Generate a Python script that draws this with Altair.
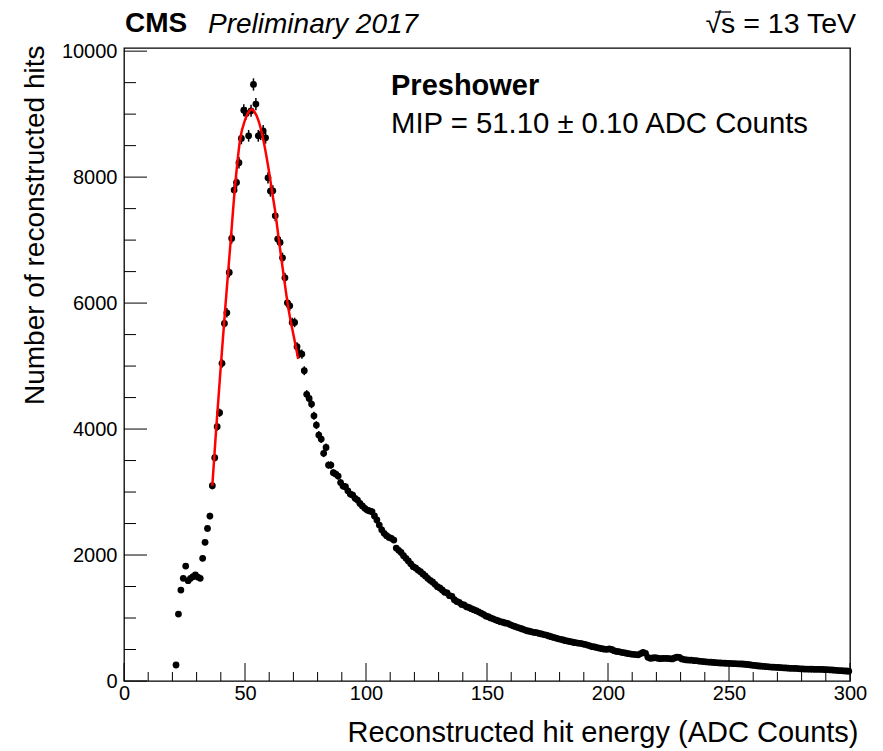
import altair as alt
import pandas as pd
import numpy as np

# ---------------- data ----------------
bin_start = 21          # first filled bin is [21, 22)
counts = [
    254, 1063, 1444, 1630, 1825, 1592, 1630, 1656, 1683, 1650,      # 21.5 - 30.5
    1630, 1947, 2201, 2423, 2619, 3100, 3545, 4037, 4259, 5043,     # 31.5 - 40.5
    5677, 5846, 6487, 7026, 7794, 7915, 8228, 8614, 9063, 9010,     # 41.5 - 50.5
    8656, 9052, 9471, 9159, 8656, 8680, 8735, 8624, 7989, 7778,     # 51.5 - 60.5
    7783, 7386, 7016, 6963, 6719, 6402, 6005, 5957, 5693, 5693,     # 61.5 - 70.5
    5307, 5201, 5190, 4926, 4551, 4487, 4397, 4211, 4063, 3905,     # 71.5 - 80.5
    3841, 3614, 3709, 3429, 3429, 3307, 3286, 3254, 3150, 3095,     # 81.5 - 90.5
    3084, 3020, 2968, 2952, 2900, 2873, 2820, 2780, 2741, 2714,     # 91.5 - 100.5
    2700, 2687, 2620, 2556, 2476, 2400, 2344, 2307, 2280, 2265,     # 101.5 - 110.5
    2238, 2110, 2075, 2040, 1990, 1947, 1905, 1860, 1815, 1795,     # 111.5 - 120.5
    1762, 1735, 1700, 1668, 1630, 1598, 1572, 1535, 1497, 1478,     # 121.5 - 130.5
    1445, 1410, 1398, 1355, 1345, 1290, 1262, 1250, 1215, 1208,     # 131.5 - 140.5
    1179, 1168, 1148, 1133, 1116, 1098, 1078, 1058, 1032, 1020,     # 141.5 - 150.5
    1002, 988, 972, 957, 942, 933, 921, 916, 896, 880,              # 151.5 - 160.5
    866, 852, 841, 826, 812, 798, 790, 781, 772, 767,               # 161.5 - 170.5
    756, 747, 738, 730, 716, 704, 692, 681, 670, 661,               # 171.5 - 180.5
    651, 641, 632, 624, 615, 609, 602, 598, 590, 581,               # 181.5 - 190.5
    570, 558, 545, 540, 531, 521, 513, 505, 503, 510,               # 191.5 - 200.5
    500, 482, 470, 465, 455, 450, 441, 433, 428, 424,               # 201.5 - 210.5
    420, 415, 435, 455, 440, 376, 360, 365, 370, 362,               # 211.5 - 220.5
    355, 360, 358, 360, 355, 350, 365, 378, 376, 350,               # 221.5 - 230.5
    340, 335, 333, 330, 325, 322, 317, 312, 308, 305,               # 231.5 - 240.5
    300, 298, 294, 291, 288, 286, 284, 282, 280, 279,               # 241.5 - 250.5
    277, 275, 273, 271, 270, 266, 262, 258, 252, 248,               # 251.5 - 260.5
    242, 238, 235, 232, 228, 225, 222, 220, 217, 215,               # 261.5 - 270.5
    212, 210, 207, 204, 202, 201, 199, 197, 194, 192,               # 271.5 - 280.5
    190, 189, 188, 187, 186, 185, 185, 183, 181, 179,               # 281.5 - 290.5
    177, 175, 172, 169, 166, 163, 160, 159, 155,                    # 291.5 - 299.5
]

# fitted curve
fit_x = [36.5, 38.0, 40.0, 42.0, 44.0, 46.0, 48.0, 50.0, 52.0, 52.8,
         54.0, 55.5, 57.6, 59.6, 61.3, 62.4, 64.0, 65.8, 68.0, 70.0, 72.0]
fit_y = [3100, 3950, 5000, 6000, 6950, 7900, 8600, 8905, 9060, 9079,
         9030, 8905, 8587, 8164, 7740, 7476, 7000, 6487, 5900, 5500, 5111]

y_major = [0, 2000, 4000, 6000, 8000, 10000]
y_minor = [500, 1000, 1500, 2500, 3000, 3500, 4500, 5000, 5500,
           6500, 7000, 7500, 8500, 9000, 9500]
x_major = [0, 50, 100, 150, 200, 250, 300]
x_minor = [10, 20, 30, 40, 60, 70, 80, 90, 110, 120, 130, 140,
           160, 170, 180, 190, 210, 220, 230, 240, 260, 270, 280, 290]

x_title = "Reconstructed hit energy (ADC Counts)"
y_title = "Number of reconstructed hits"
label_cms = "CMS"
label_prelim = "Preliminary 2017"
label_energy = "\u221as = 13 TeV"
label_det = "Preshower"
label_mip = "MIP = 51.10 \u00b1 0.10 ADC Counts"

# ---------------- chart ----------------
W, H = 726, 633
FONT = "Liberation Sans"

hist = pd.DataFrame({
    "energy": [bin_start + 0.5 + i for i in range(len(counts))],
    "hits": counts,
})
fit = pd.DataFrame({"energy": fit_x, "hits": fit_y})

xs = alt.Scale(domain=[0, 300], nice=False, zero=False)
ys = alt.Scale(domain=[0, 10050], nice=False, zero=False)

x_axis = alt.Axis(values=x_major, format="d", labelFont=FONT, labelFontSize=20,
                  labelColor="black", labelPadding=2, ticks=False, tickSize=0,
                  domain=False, grid=False, labelFlush=False,
                  title=x_title, titleFont=FONT, titleFontSize=29,
                  titleFontWeight="normal", titleColor="black",
                  titleAnchor="end", titleAlign="right", titleBaseline="alphabetic",
                  titleX=734, titleY=60)
y_axis = alt.Axis(values=y_major, format="d", labelFont=FONT, labelFontSize=20,
                  labelColor="black", labelPadding=7, ticks=False, tickSize=0,
                  domain=False, grid=False, labelFlush=False,
                  title=y_title, titleFont=FONT, titleFontSize=28,
                  titleFontWeight="normal", titleColor="black",
                  titleAnchor="end", titleAlign="right", titleBaseline="alphabetic",
                  titleAngle=270, titleX=-81, titleY=-3)

def X(field):
    return alt.X(field, scale=xs, axis=x_axis, title=x_title)

def Y(field):
    return alt.Y(field, scale=ys, axis=y_axis, title=y_title)

ymaj = alt.Chart(pd.DataFrame({"v": y_major})).mark_rule(color="black", strokeWidth=1).encode(
    y=Y("v:Q"), x=alt.value(0), x2=alt.value(23))
ymin = alt.Chart(pd.DataFrame({"v": y_minor})).mark_rule(color="black", strokeWidth=1).encode(
    y=Y("v:Q"), x=alt.value(0), x2=alt.value(12))
xmaj = alt.Chart(pd.DataFrame({"v": x_major})).mark_rule(color="black", strokeWidth=1).encode(
    x=X("v:Q"), y=alt.value(H), y2=alt.value(H - 18))
xmin = alt.Chart(pd.DataFrame({"v": x_minor})).mark_rule(color="black", strokeWidth=1).encode(
    x=X("v:Q"), y=alt.value(H), y2=alt.value(H - 9))

errs = alt.Chart(hist).transform_calculate(
    lo="datum.hits - sqrt(datum.hits)", hi="datum.hits + sqrt(datum.hits)"
).mark_rule(color="black", strokeWidth=1.5).encode(
    x=X("energy:Q"),
    y=Y("lo:Q"),
    y2="hi:Q",
)

pts = alt.Chart(hist).mark_circle(color="black", opacity=1, size=46).encode(
    x=X("energy:Q"),
    y=Y("hits:Q"),
)

fitline = alt.Chart(fit).mark_line(color="#ff0000", strokeWidth=2.5, interpolate="monotone").encode(
    x=X("energy:Q"),
    y=Y("hits:Q"),
)

def label(txt, x, y, size=28, weight="normal", style="normal", align="left"):
    return alt.Chart(pd.DataFrame({"t": [txt]})).mark_text(
        font=FONT, fontSize=size, fontWeight=weight, fontStyle=style,
        align=align, baseline="alphabetic", color="black"
    ).encode(text="t:N", x=alt.value(x), y=alt.value(y))

t_cms = label(label_cms, 1, -16, weight="bold")
t_pre = label(label_prelim, 84, -15.5, size=28, style="italic")
t_sqrt = label(label_energy, 732, -15.5, size=28.5, align="right")
t_det = label(label_det, 267, 47, size=29, weight="bold")
t_mip = label(label_mip, 267, 85, size=29.3)

overline = alt.Chart(pd.DataFrame({"t": [label_energy]})).mark_rule(
    color="black", strokeWidth=1.3).encode(
    x=alt.value(591), x2=alt.value(607), y=alt.value(-36))

chart = alt.layer(
    pts, ymaj, ymin, xmaj, xmin, errs, fitline,
    t_cms, t_pre, t_sqrt, overline, t_det, t_mip,
).properties(
    width=W, height=H,
    autosize=alt.AutoSizeParams(type="none"),
    padding={"left": 116, "top": 40, "right": 25, "bottom": 68},
    background="white",
).configure_view(stroke="black", strokeWidth=1.3)

chart.save("out.html", embed_options={"renderer": "svg", "actions": False})
